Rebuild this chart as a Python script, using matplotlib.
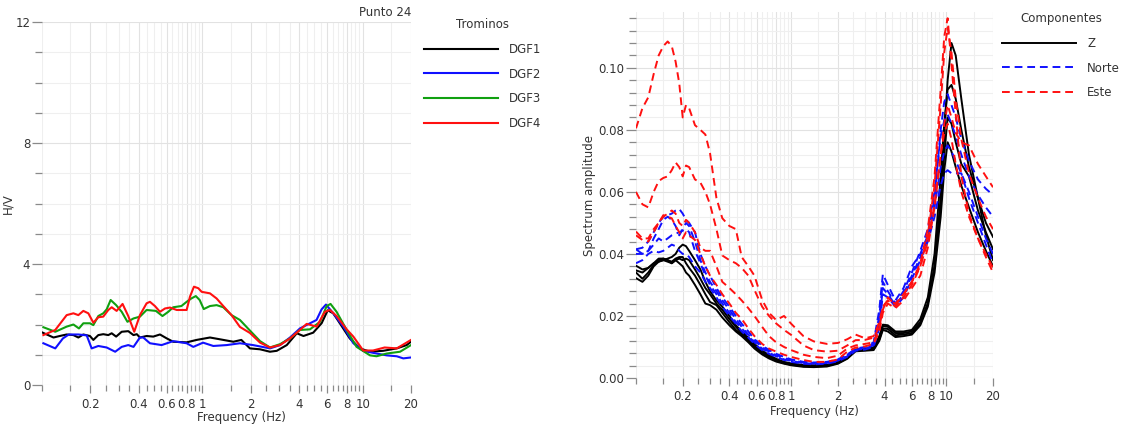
import numpy as np
import matplotlib
matplotlib.use("Agg")
import matplotlib.pyplot as plt
from matplotlib.ticker import FixedLocator, FixedFormatter, NullFormatter, MultipleLocator, FormatStrFormatter

# ---------------- left panel: H/V per tromino (Punto 24) ----------------
dgf1_f = [0.10, 0.118, 0.129, 0.1425, 0.157, 0.1685, 0.181, 0.199, 0.209, 0.2245, 0.241, 0.259, 0.272,
          0.290, 0.314, 0.345, 0.372, 0.390, 0.408, 0.449, 0.494, 0.544, 0.60, 0.658, 0.798, 0.92, 1.115,
          1.29, 1.56, 1.75, 1.98, 2.29, 2.64, 2.91, 3.36, 3.88, 4.27, 4.91, 5.54, 6.05, 6.55, 7.2, 8.3,
          9.6, 11.1, 13.4, 16.3, 18.8, 20]
dgf1_hv = [1.74, 1.57, 1.62, 1.67, 1.65, 1.57, 1.67, 1.62, 1.49, 1.65, 1.68, 1.65, 1.71,
           1.60, 1.76, 1.78, 1.65, 1.68, 1.57, 1.62, 1.60, 1.67, 1.54, 1.43, 1.41, 1.49, 1.57,
           1.51, 1.43, 1.49, 1.21, 1.18, 1.10, 1.13, 1.32, 1.71, 1.62, 1.73, 2.04, 2.47, 2.37, 2.04, 1.54,
           1.21, 1.10, 1.13, 1.21, 1.32, 1.43]

dgf2_f = [0.102, 0.121, 0.135, 0.147, 0.1685, 0.190, 0.204, 0.2245, 0.253, 0.286, 0.314, 0.345, 0.372,
          0.408, 0.428, 0.471, 0.557, 0.658, 0.798, 0.878, 1.01, 1.17, 1.42, 1.715, 2.07, 2.64, 3.05,
          3.52, 4.06, 4.69, 5.15, 5.54, 5.9, 6.55, 7.57, 8.74, 10.07, 12.2, 14.1, 16.3, 17.9, 20]
dgf2_hv = [1.38, 1.21, 1.54, 1.67, 1.67, 1.64, 1.21, 1.29, 1.24, 1.10, 1.26, 1.32, 1.26,
           1.57, 1.57, 1.38, 1.32, 1.45, 1.38, 1.26, 1.40, 1.29, 1.32, 1.38, 1.32, 1.21, 1.32,
           1.57, 1.87, 2.04, 2.15, 2.50, 2.66, 2.37, 1.93, 1.38, 1.13, 1.04, 0.98, 0.95, 0.88, 0.91]

dgf3_f = [0.102, 0.121, 0.1425, 0.157, 0.170, 0.181, 0.199, 0.209, 0.2245, 0.241, 0.253, 0.268, 0.290,
          0.314, 0.341, 0.372, 0.408, 0.449, 0.513, 0.564, 0.613, 0.658, 0.740, 0.798, 0.853, 0.91,
          0.962, 1.02, 1.115, 1.227, 1.35, 1.52, 1.715, 1.98, 2.29, 2.64, 3.05, 3.52, 4.06, 4.69, 5.42,
          5.96, 6.3, 6.87, 7.94, 9.16, 11.1, 12.2, 14.1, 17.1, 20]
dgf3_hv = [1.91, 1.76, 1.93, 2.00, 1.87, 2.04, 2.04, 1.98, 2.28, 2.37, 2.50, 2.81, 2.64,
           2.42, 2.09, 2.20, 2.26, 2.48, 2.45, 2.28, 2.42, 2.57, 2.61, 2.75, 2.86, 2.94,
           2.81, 2.51, 2.61, 2.64, 2.57, 2.31, 2.15, 1.80, 1.45, 1.24, 1.35, 1.54, 1.82, 1.84, 2.09,
           2.61, 2.68, 2.42, 1.82, 1.26, 0.98, 0.95, 1.04, 1.10, 1.32]

dgf4_f = [0.102, 0.121, 0.1425, 0.157, 0.1685, 0.181, 0.1945, 0.209, 0.2245, 0.241, 0.259, 0.272, 0.292,
          0.318, 0.345, 0.376, 0.408, 0.449, 0.471, 0.506, 0.544, 0.585, 0.628, 0.692, 0.798, 0.837,
          0.886, 0.943, 0.99, 1.115, 1.227, 1.35, 1.52, 1.715, 1.98, 2.29, 2.64, 3.05, 3.52, 4.06,
          4.47, 5.16, 5.81, 6.25, 6.87, 7.94, 8.74, 10.07, 11.6, 13.7, 16.3, 20]
dgf4_hv = [1.65, 1.82, 2.31, 2.37, 2.31, 2.45, 2.37, 2.06, 2.24, 2.26, 2.48, 2.57, 2.45,
           2.68, 2.28, 1.76, 2.31, 2.70, 2.75, 2.61, 2.42, 2.53, 2.56, 2.48, 2.48, 2.92,
           3.25, 3.20, 3.08, 3.03, 2.86, 2.61, 2.31, 1.92, 1.72, 1.40, 1.24, 1.32, 1.54, 1.82,
           2.02, 1.93, 2.42, 2.48, 2.28, 1.84, 1.60, 1.14, 1.14, 1.24, 1.21, 1.49]

trominos = ["DGF1", "DGF2", "DGF3", "DGF4"]
tromino_colors = ["#000000", "#1010ff", "#10a010", "#ff1010"]

# ---------------- right panel: spectra per component ----------------
freq_spec = [0.10, 0.11, 0.12, 0.13, 0.14, 0.15, 0.16, 0.17, 0.18, 0.19, 0.20, 0.21, 0.22,
             0.24, 0.26, 0.28, 0.30, 0.33, 0.36, 0.40, 0.44, 0.48,
             0.53, 0.58, 0.65, 0.72, 0.80, 0.90, 1.0, 1.2, 1.4, 1.7,
             2.0, 2.3, 2.6, 3.0, 3.4, 3.7, 3.9, 4.2, 4.7, 5.3, 6.0, 6.8, 7.6, 8.4,
             9.2, 9.7, 10.2, 10.8, 11.5, 12.5, 14.0, 16.0, 18.0, 20.0]

z_spectra = [
    [.0362, .035, .0355, .037, .0375, .038, .0385, .039, .040, .042, .043, .0425, .041,
     .038, .035, .031, .028, .025, .023, .020, .017, .015,
     .013, .011, .0088, .0074, .0062, .0052, .0047, .0042, .0041, .0042,
     .0052, .0068, .0092, .0095, .0098, .0135, .0172, .017, .015, .015, .0155, .019, .026, .040,
     .065, .082, .093, .0945, .090, .080, .068, .058, .050, .0455],
    [.0347, .034, .0355, .037, .0385, .0385, .038, .037, .038, .0385, .038, .0385, .038,
     .035, .032, .029, .027, .024, .022, .019, .0165, .0145,
     .0125, .0105, .0085, .007, .0058, .005, .0045, .004, .0039, .0041,
     .005, .0066, .009, .0093, .0096, .013, .0168, .0165, .0145, .0145, .015, .018, .024, .036,
     .058, .078, .096, .108, .104, .090, .072, .058, .046, .038],
    [.034, .032, .034, .0365, .038, .0385, .038, .0375, .0385, .039, .039, .037, .0355,
     .033, .030, .027, .0245, .0235, .021, .018, .0155, .014,
     .012, .010, .008, .0067, .0056, .0048, .0043, .0038, .0037, .0039,
     .0048, .0064, .0088, .009, .0092, .0125, .016, .0158, .0138, .014, .0145, .0175, .024, .036,
     .056, .072, .084, .082, .076, .069, .065, .054, .047, .0415],
    [.0322, .031, .033, .036, .0375, .038, .0375, .037, .038, .037, .036, .034, .033,
     .030, .027, .024, .0235, .022, .0195, .017, .015, .0135,
     .0115, .0095, .0076, .0063, .0053, .0046, .0041, .0036, .0035, .0037,
     .0046, .0062, .0086, .0088, .009, .012, .0155, .015, .0132, .0135, .014, .017, .023, .034,
     .052, .067, .076, .073, .068, .062, .055, .047, .041, .036],
]

norte_spectra = [
    [.0415, .042, .044, .047, .050, .052, .0525, .053, .054, .0545, .053, .051, .050,
     .047, .040, .036, .033, .029, .026, .023, .020, .0175,
     .015, .0125, .0105, .009, .0078, .0068, .006, .0052, .005, .0052,
     .006, .0075, .0095, .010, .0115, .022, .0335, .030, .025, .029, .036, .040, .046, .058,
     .080, .089, .0915, .088, .084, .077, .070, .064, .061, .059],
    [.0415, .040, .041, .045, .048, .051, .052, .051, .049, .046, .048, .050, .049,
     .044, .038, .034, .031, .028, .025, .022, .019, .0165,
     .014, .012, .010, .0085, .0074, .0065, .0058, .005, .0048, .005,
     .0058, .0075, .0092, .0098, .011, .020, .031, .028, .024, .028, .034, .041, .048, .060,
     .078, .083, .085, .082, .078, .072, .065, .059, .055, .052],
    [.040, .040, .041, .043, .045, .044, .045, .046, .0465, .047, .0475, .048, .047,
     .041, .037, .033, .030, .027, .024, .021, .018, .016,
     .0135, .0115, .0095, .0082, .007, .006, .0055, .0048, .0046, .0048,
     .0056, .007, .009, .0095, .0105, .018, .029, .027, .0235, .027, .033, .039, .045, .055,
     .068, .073, .075, .073, .070, .066, .060, .052, .045, .040],
    [.037, .038, .040, .041, .0405, .041, .042, .043, .0425, .041, .040, .040, .039,
     .036, .034, .031, .029, .026, .023, .020, .0175, .015,
     .013, .011, .009, .0078, .0068, .0058, .0052, .0046, .0044, .0046,
     .0054, .0068, .0088, .0092, .010, .016, .027, .026, .023, .026, .032, .038, .044, .052,
     .062, .066, .067, .066, .066, .066, .058, .050, .043, .037],
]

este_spectra = [
    [.0805, .087, .0905, .098, .104, .107, .1085, .107, .102, .095, .084, .088, .087,
     .0815, .080, .0785, .0725, .058, .0515, .049, .048, .039,
     .036, .033, .0252, .021, .0187, .020, .0175, .0135, .0118, .011,
     .0113, .0125, .014, .0128, .0135, .018, .023, .025, .024, .027, .031, .036, .044, .056,
     .072, .082, .088, .084, .079, .076, .075, .069, .065, .0615],
    [.060, .056, .055, .060, .0635, .0645, .065, .067, .0695, .068, .065, .0685, .068,
     .064, .063, .060, .056, .048, .0395, .038, .037, .0355,
     .033, .0284, .023, .020, .0176, .0155, .0139, .0105, .009, .0085,
     .0088, .0105, .0122, .0123, .013, .0165, .022, .026, .0235, .027, .031, .037, .048, .065,
     .093, .110, .116, .101, .085, .065, .053, .045, .040, .0355],
    [.0472, .045, .045, .048, .050, .052, .053, .054, .053, .050, .049, .051, .050,
     .047, .042, .041, .041, .036, .031, .029, .027, .025,
     .0225, .020, .0165, .0135, .0115, .010, .009, .0075, .0068, .0064,
     .0072, .0095, .0105, .011, .0115, .016, .023, .025, .023, .026, .030, .036, .046, .062,
     .088, .105, .113, .105, .090, .077, .066, .058, .052, .048],
    [.046, .0445, .044, .047, .050, .0525, .052, .0515, .049, .047, .045, .047, .046,
     .0445, .040, .036, .033, .030, .027, .024, .021, .019,
     .016, .0135, .011, .0095, .0085, .0075, .0068, .0058, .0052, .0052,
     .006, .0085, .0098, .0102, .011, .015, .021, .024, .0225, .025, .029, .033, .042, .055,
     .072, .079, .082, .077, .069, .060, .052, .045, .039, .034],
]

x_major = [0.2, 0.4, 0.6, 0.8, 1, 2, 4, 6, 8, 10, 20]
x_major_labels = ["0.2", "0.4", "0.6", "0.8", "1", "2", "4", "6", "8", "10", "20"]

W, H = 1125, 425
fig = plt.figure(figsize=(W / 100, H / 100), dpi=100)
plt.rcParams["font.family"] = ["DejaVu Sans"]

FS = 8.5
TXT = "#333333"
TICK = "#8a8a8a"


def style_freq_axis(ax):
    ax.set_xscale("log")
    ax.set_xlim(0.1, 20)
    minor = list(np.arange(0.1, 0.99, 0.05)) + list(np.arange(1.5, 9.9, 0.5)) + [15]
    ax.xaxis.set_major_locator(FixedLocator(x_major))
    ax.xaxis.set_major_formatter(FixedFormatter(x_major_labels))
    ax.xaxis.set_minor_locator(FixedLocator(minor))
    ax.xaxis.set_minor_formatter(NullFormatter())
    for sp in ax.spines.values():
        sp.set_visible(False)
    ax.grid(True, which="major", color="#e2e2e2", lw=0.8)
    ax.grid(True, which="minor", color="#efefef", lw=0.8)
    ax.set_axisbelow(True)
    ax.tick_params(which="major", length=6, width=0.9, colors=TICK, labelcolor=TXT,
                   labelsize=FS, pad=3)
    ax.tick_params(which="minor", length=4, width=0.9, colors=TICK)
    ax.set_xlabel("Frequency (Hz)", fontsize=FS, color=TXT)


# left axes
ax1 = fig.add_axes([42 / W, 1 - 385 / H, 369 / W, 363 / H])
style_freq_axis(ax1)
ax1.set_ylim(0, 12)
ax1.yaxis.set_major_locator(MultipleLocator(4))
ax1.yaxis.set_minor_locator(MultipleLocator(1))
ax1.tick_params(axis="y", which="major", length=7, pad=1.5)
ax1.tick_params(axis="y", which="minor", length=5)
ax1.set_ylabel("H/V", fontsize=FS, color=TXT)
ax1.yaxis.set_label_coords(-0.075, 0.5)
ax1.xaxis.set_label_coords(0.54, -0.072)

curves = [(dgf1_f, dgf1_hv), (dgf2_f, dgf2_hv), (dgf3_f, dgf3_hv), (dgf4_f, dgf4_hv)]
handles = []
for (f, hv), name, c in zip(curves, trominos, tromino_colors):
    ln, = ax1.plot(f, hv, color=c, lw=1.5, label=name)
    handles.append(ln)

fig.text(411 / W, 1 - 12 / H, "Punto 24", ha="right", va="center", fontsize=FS, color=TXT)

leg1 = fig.legend(handles=handles, labels=trominos, title="Trominos", loc="upper left",
                  bbox_to_anchor=(424 / W, 1 - 18 / H), frameon=False, fontsize=FS,
                  title_fontsize=FS, handlelength=6.3, handletextpad=0.9, labelspacing=1.0,
                  borderpad=0, borderaxespad=0)
for t in leg1.get_texts():
    t.set_color(TXT)
leg1.get_title().set_color(TXT)

# right axes
ax2 = fig.add_axes([636 / W, 1 - 378 / H, 357 / W, 366 / H])
style_freq_axis(ax2)
ax2.set_ylim(0, 0.118)
ax2.yaxis.set_major_locator(MultipleLocator(0.02))
ax2.yaxis.set_minor_locator(MultipleLocator(0.004))
ax2.yaxis.set_major_formatter(FormatStrFormatter("%.2f"))
ax2.tick_params(axis="y", which="major", length=7, pad=1.5)
ax2.tick_params(axis="y", which="minor", length=5)
ax2.set_ylabel("Spectrum amplitude", fontsize=FS, color=TXT)
ax2.yaxis.set_label_coords(-0.112, 0.5)
ax2.xaxis.set_label_coords(0.5, -0.075)

dash = (0, (4, 2.5))
for s in z_spectra:
    h_z, = ax2.plot(freq_spec, s, color="black", lw=1.4)
for s in norte_spectra:
    h_n, = ax2.plot(freq_spec, s, color="#1010ff", lw=1.4, ls=dash)
for s in este_spectra:
    h_e, = ax2.plot(freq_spec, s, color="#ff1010", lw=1.4, ls=dash)

leg2 = fig.legend(handles=[h_z, h_n, h_e], labels=["Z", "Norte", "Este"], title="Componentes",
                  loc="upper left", bbox_to_anchor=(1002 / W, 1 - 12 / H), frameon=False,
                  fontsize=FS, title_fontsize=FS, handlelength=6.3, handletextpad=0.9,
                  labelspacing=1.0, borderpad=0, borderaxespad=0)
for t in leg2.get_texts():
    t.set_color(TXT)
leg2.get_title().set_color(TXT)

fig.savefig("out.png", dpi=100, facecolor="white")
